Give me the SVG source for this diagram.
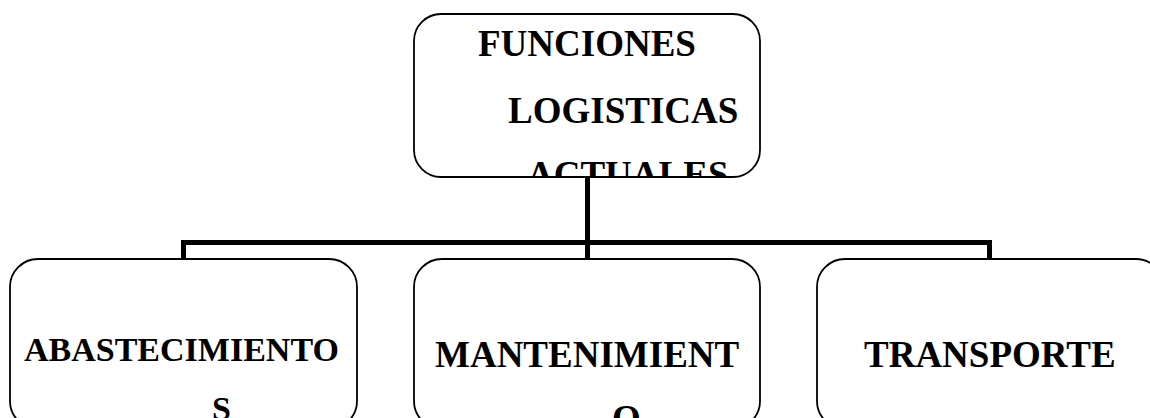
<svg xmlns="http://www.w3.org/2000/svg" width="1150" height="418" viewBox="0 0 1150 418">
<style>
.box{fill:#fff;stroke:#000;stroke-width:1.8}
.t{font-family:"Liberation Serif","Times New Roman",serif;font-weight:bold;fill:#000}
.conn{fill:none;stroke:#000;stroke-width:5;stroke-linejoin:miter}
</style>
<defs>
<clipPath id="c0"><rect x="415" y="15" width="344" height="161" rx="26"/></clipPath>
<clipPath id="c1"><rect x="11" y="260" width="345" height="168" rx="27"/></clipPath>
<clipPath id="c2"><rect x="415" y="260" width="344" height="168" rx="27"/></clipPath>
<clipPath id="c3"><rect x="818" y="260" width="345" height="168" rx="27"/></clipPath>
</defs>
<rect width="1150" height="418" fill="#fff"/>
<g id="connectors">
<path class="conn" d="M183.5,259 V242.5 H989.5 V259 M587.5,177 V259"/>
</g>
<g id="n0">
<rect class="box" x="414" y="14" width="346" height="163" rx="27"/>
<g clip-path="url(#c0)" class="t" font-size="37">
<text x="478" y="56">FUNCIONES</text>
<text x="508" y="123">LOGISTICAS</text>
<text x="527" y="187">ACTUALES</text>
</g>
</g>
<g id="n1">
<rect class="box" x="10" y="259" width="347" height="170" rx="28"/>
<g clip-path="url(#c1)" class="t" font-size="34">
<text x="24" y="361">ABASTECIMIENTO</text>
<text x="212" y="420">S</text>
</g>
</g>
<g id="n2">
<rect class="box" x="414" y="259" width="346" height="170" rx="28"/>
<g clip-path="url(#c2)" class="t" font-size="37">
<text x="435" y="367">MANTENIMIENT</text>
<text x="612" y="431">O</text>
</g>
</g>
<g id="n3">
<rect class="box" x="817" y="259" width="347" height="170" rx="28"/>
<g clip-path="url(#c3)" class="t" font-size="37">
<text x="864" y="367">TRANSPORTE</text>
</g>
</g>
</svg>
